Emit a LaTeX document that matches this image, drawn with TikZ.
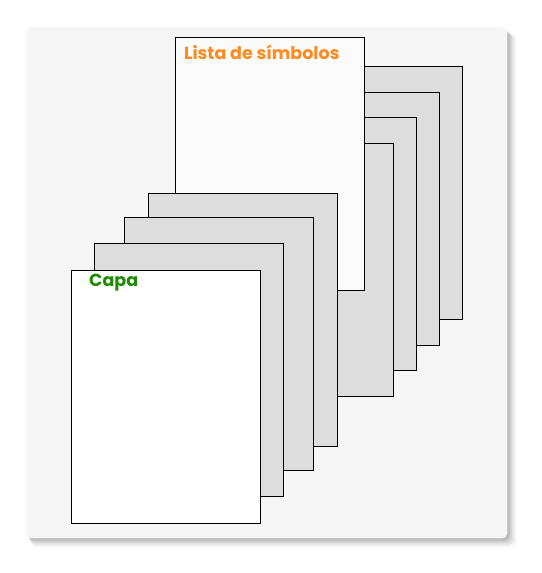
\documentclass[tikz,border=0pt]{standalone}
\usepackage{fontspec}
\setmainfont{Poppins}
\usetikzlibrary{positioning}
\definecolor{panelgray}{HTML}{F6F6F6}
\definecolor{pagegray}{HTML}{DDDDDD}
\definecolor{titleorange}{HTML}{FF8A1E}
\definecolor{titlegreen}{HTML}{1E8C00}
\tikzset{
  pagebox/.style={draw, shape=rectangle, line width=0.8pt, anchor=north west,
    minimum width=189pt, minimum height=253pt, inner sep=0pt, outer sep=0pt},
  backpage/.style={pagebox, fill=pagegray},
  pagetitle/.style={anchor=base west, inner sep=0pt, font=\bfseries\fontsize{17.5}{20}\selectfont}
}
\begin{document}
\begin{tikzpicture}[x=1pt, y=-1pt]
\useasboundingbox (0,0) rectangle (541,573);
% panel with soft shadow
\foreach \s/\o in {9/0.04, 7/0.06, 5/0.08, 3/0.10}
  \fill[black, opacity=\o, rounded corners=6pt] (26+\s*0.6,27+\s*0.9) rectangle (507+\s,538+\s);
\node (panel) [fill=panelgray, rounded corners=5pt, anchor=north west, inner sep=0pt,
  minimum width=481pt, minimum height=511pt] at (26,27) {};
% pages behind the symbol list
\node (back1) [backpage] at (273,66) {};
\node (back2) [backpage] at (250,92) {};
\node (back3) [backpage] at (227,117) {};
\node (back4) [backpage] at (204,143) {};
\node (simbolos) [pagebox, fill=panelgray!40!white] at (175,37) {};
% pages in front
\node (front1) [backpage] at (148,193) {};
\node (front2) [backpage] at (124,217) {};
\node (front3) [backpage] at (94,243) {};
\node (capa) [pagebox, fill=white] at (71,270) {};
% titles
\node (simtitle) [pagetitle, text=titleorange] at ([xshift=9pt,yshift=-22pt]simbolos.north west) {Lista de símbolos};
\node (capatitle) [pagetitle, text=titlegreen] at ([xshift=18pt,yshift=-16pt]capa.north west) {Capa};
\end{tikzpicture}
\end{document}
